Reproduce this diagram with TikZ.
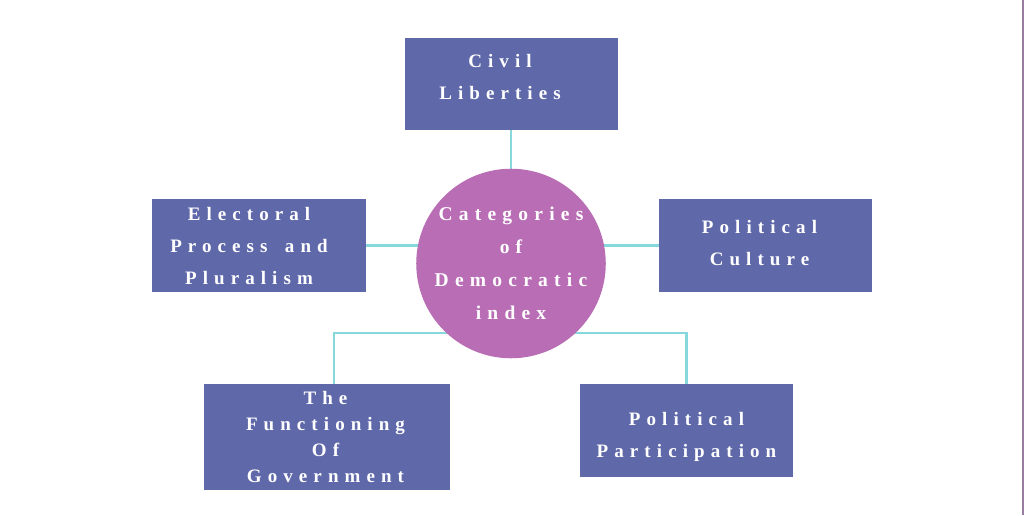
\documentclass[tikz,border=0pt]{standalone}
\usepackage{fontspec}
\newfontfamily\boxfont[LetterSpace=32,WordSpace=1.6]{Liberation Serif}
\usetikzlibrary{backgrounds}
\definecolor{boxblue}{HTML}{5F68A9}
\definecolor{hubpink}{HTML}{B86DB4}
\definecolor{linkcyan}{HTML}{86D8DC}
\definecolor{edgepurple}{HTML}{9A7EA2}
\begin{document}
\begin{tikzpicture}[x=1pt,y=1pt,
  catbox/.style={fill=boxblue, draw=none, inner sep=0pt},
  lab/.style={text=white, inner sep=0pt, align=center,
    font=\boxfont\bfseries\fontsize{19}{32}\selectfont},
  hub/.style={circle, fill=hubpink, draw=none, inner sep=0pt, minimum size=188pt,
    text=white, align=center, font=\boxfont\bfseries\fontsize{19.5}{33}\selectfont},
  link/.style={draw=linkcyan, line width=2.6pt}]
\useasboundingbox (0,0) rectangle (1024,-515);

\node[hub] (cat) at (511,-263.5) {Categories\\of\\Democratic\\index};

\node[catbox, minimum width=213pt, minimum height=92pt,
  label={[lab,yshift=7pt,xshift=-11pt]center:{Civil\\Liberties}}] (civil) at (511,-84) {};
\node[catbox, minimum width=214pt, minimum height=93pt,
  label={[lab,yshift=-1pt,xshift=-10pt]center:{Electoral\\Process and\\Pluralism}}] (elect) at (259,-245.5) {};
\node[catbox, minimum width=213pt, minimum height=93pt,
  label={[lab,yshift=2pt,xshift=-6pt]center:{Political\\Culture}}] (cult) at (765.5,-245.5) {};
\node[catbox, minimum width=246pt, minimum height=106pt,
  label={[lab,xshift=-1.5pt,font=\boxfont\bfseries\fontsize{19}{26}\selectfont]center:{The\\Functioning\\Of\\Government}}] (func) at (327,-437) {};
\node[catbox, minimum width=213pt, minimum height=93pt,
  label={[lab,yshift=-6pt]center:{Political\\Participation}}] (part) at (686.5,-430.5) {};

\coordinate (bus) at (511,-333);

\begin{pgfonlayer}{background}
  \fill[white] (0,0) rectangle (1024,-515);
  \draw[edgepurple, line width=1.4pt] (1023,0) -- (1023,-515);
  \draw[link] (civil.south) -- (cat.center);
  \draw[link] (elect.east) -- (elect.east -| cat.center);
  \draw[link] (cult.west) -- (cult.west -| cat.center);
  \draw[link] ([xshift=7pt]func.north) |- (bus);
  \draw[link] (part.north) |- (bus);
\end{pgfonlayer}
\end{tikzpicture}
\end{document}
